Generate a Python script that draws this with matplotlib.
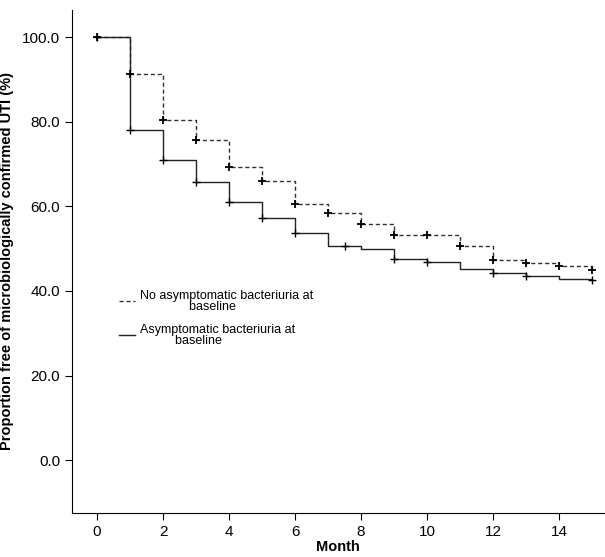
import matplotlib
matplotlib.use("Agg")
import matplotlib.pyplot as plt

plt.rcParams['font.family'] = ['Liberation Sans', 'DejaVu Sans']

# step values (% free of UTI), interval starts at months 0..15
months = list(range(16))
no_asb = [100, 91.2, 80.5, 75.6, 69.3, 66.0, 60.5, 58.5, 55.7, 53.2, 53.2, 50.5, 47.2, 46.6, 46.0, 45.0]
asb = [100, 78.0, 71.0, 65.7, 61.0, 57.3, 53.8, 50.5, 49.8, 47.6, 46.8, 45.2, 44.2, 43.5, 42.8, 42.5]

# censor marks
cens_no_x = [0, 1, 2, 3, 4, 5, 6, 7, 8, 9, 10, 11, 12, 13, 14, 15]
cens_asb_x = [0, 1, 2, 3, 4, 5, 6, 7.5, 9, 10, 12, 13, 15]

def val_at(xs, ys, t):
    v = ys[0]
    for x, y in zip(xs, ys):
        if x <= t:
            v = y
    return v

fig = plt.figure(figsize=(6.05, 5.57), dpi=100)
ax = fig.add_axes([72/605, 1-513/557, 532/605, 503/557])

ax.step(months, no_asb, where='post', color='#333333', lw=1, ls=(0, (3, 2)))
ax.step(months, asb, where='post', color='#222222', lw=1)
ax.plot(cens_no_x, [val_at(months, no_asb, t) for t in cens_no_x], '+', color='black', ms=6, mew=1.3)
ax.plot(cens_asb_x, [val_at(months, asb, t) for t in cens_asb_x], '+', color='black', ms=6, mew=1.0)

ax.set_xlim(-0.76, 15.36)
ax.set_ylim(-12.5, 106.4)
ax.set_xticks(range(0, 16, 2))
ax.set_yticks([0, 20, 40, 60, 80, 100])
ax.set_yticklabels(['0.0', '20.0', '40.0', '60.0', '80.0', '100.0'])
ax.tick_params(labelsize=11, length=5)
for s in ['top', 'right']:
    ax.spines[s].set_visible(False)
ax.set_xlabel('Month', fontsize=10.5, fontweight='bold', labelpad=1)
ax.set_ylabel('Proportion free of microbiologically confirmed UTI (%)', fontsize=10.5, fontweight='bold', labelpad=6)

ax.plot([0.65, 1.15], [37.5, 37.5], color='#333333', lw=1, ls=(0, (3, 2)))
ax.text(1.3, 37.5, 'No asymptomatic bacteriuria at\n              baseline', fontsize=9, va='center', linespacing=0.95)
ax.plot([0.65, 1.15], [29.5, 29.5], color='#222222', lw=1)
ax.text(1.3, 29.5, 'Asymptomatic bacteriuria at\n          baseline', fontsize=9, va='center', linespacing=0.95)

fig.savefig('out.png', dpi=100)
